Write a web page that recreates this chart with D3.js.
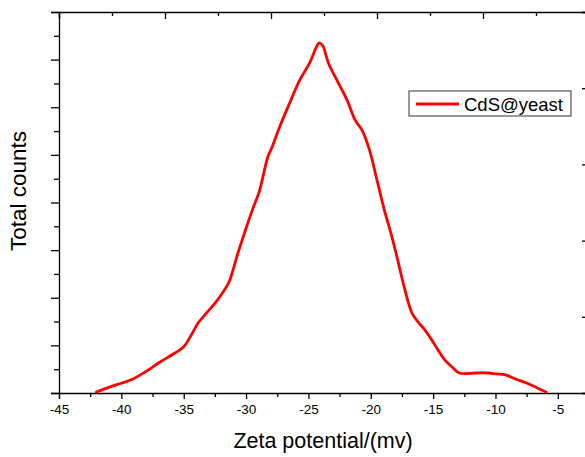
<!DOCTYPE html>
<html lang="en">
<head>
<meta charset="UTF-8">
<title>Zeta potential</title>
<style>
    body { margin: 0; background: #fff; }
    svg { display: block; font-family: "Liberation Sans", Arial, sans-serif; }
</style>
</head>
<body>
<script src="https://cdn.jsdelivr.net/npm/d3@7/dist/d3.min.js"></script>
<script>
    // zeta potential distribution
    const zeta = [-42.0, -40.9, -39.95, -39.1, -38.1, -36.9, -35.7, -35.0, -34.3, -33.85, -33.3, -32.3,
        -31.4, -31.05, -30.65, -30.1, -29.5, -28.95, -28.25, -27.9, -27.3, -26.5, -25.7, -24.9, -24.4,
        -24.15, -23.85, -23.4, -22.6, -21.9, -21.25, -20.7, -20.1, -19.5, -18.85, -18.45, -17.9, -17.4,
        -16.7, -16.2, -15.65, -15.1, -14.6, -14.05, -13.5, -12.9, -11.6, -10.6, -9.9, -9.2, -8.35,
        -7.5, -6.6, -5.95]
    const counts = [0.02, 0.13, 0.21, 0.29, 0.44, 0.65, 0.84, 0.97, 1.26, 1.47, 1.64, 1.95,
        2.31, 2.58, 2.94, 3.38, 3.84, 4.22, 4.96, 5.17, 5.59, 6.09, 6.57, 6.93, 7.24,
        7.35, 7.29, 6.93, 6.51, 6.15, 5.73, 5.52, 5.1, 4.47, 3.78, 3.42, 2.86, 2.31,
        1.68, 1.49, 1.32, 1.11, 0.9, 0.69, 0.55, 0.42, 0.42, 0.42, 0.4, 0.38, 0.29,
        0.21, 0.1, 0.02]
    const xTicks = [-45, -40, -35, -30, -25, -20, -15, -10, -5]
    const seriesName = 'CdS@yeast'

    const width = 585
    const height = 457
    const margin = { left: 59, top: 12, right: -4, bottom: 64 }
    const x0 = margin.left, x1 = width - margin.right
    const y0 = margin.top, y1 = height - margin.bottom

    const svg = d3.select('body').append('svg')
        .attr('width', width)
        .attr('height', height)

    const x = d3.scaleLinear().domain([-45, -2.5]).range([x0, x1])
    const y = d3.scaleLinear().domain([0, 8]).range([y1, y0])
    // top / right frame axes carry only ticks
    const xTop = d3.scaleLinear().domain([0, 5]).range([x0, x1])
    const yRight = d3.scaleLinear().domain([0, 5]).range([y1, y0])

    const half = n => d3.range(0, n + 0.01, 0.5).filter(v => v % 1 !== 0)

    function axis(g, maj, min) {
        g.call(maj)
        g.call(min)
        g.selectAll('.domain').attr('stroke', '#000').attr('stroke-width', 1.3)
        g.selectAll('.tick line').attr('stroke', '#000').attr('stroke-width', 1.3)
    }

    // bottom
    const gb = svg.append('g').attr('transform', `translate(0,${y1})`)
    axis(gb,
        d3.axisBottom(x).tickValues(xTicks).tickSize(6).tickPadding(5).tickFormat(d => String(d)),
        g => g.append('g').call(d3.axisBottom(x).tickValues(xTicks.map(d => d + 2.5)).tickSize(4).tickFormat(''))
            .call(s => s.select('.domain').remove()))
    gb.selectAll('text').attr('font-size', 13.5).attr('fill', '#000')
        .attr('font-family', '"Liberation Sans", Arial, sans-serif')

    // left
    const gl = svg.append('g').attr('transform', `translate(${x0},0)`)
    axis(gl,
        d3.axisLeft(y).ticks(8).tickSize(8).tickFormat(''),
        g => g.append('g').call(d3.axisLeft(y).tickValues(half(8)).tickSize(5).tickFormat(''))
            .call(s => s.select('.domain').remove()))

    // top
    const gt = svg.append('g').attr('transform', `translate(0,${y0})`)
    axis(gt,
        d3.axisBottom(xTop).ticks(5).tickSize(7).tickFormat(''),
        g => g.append('g').call(d3.axisBottom(xTop).tickValues(half(5)).tickSize(4).tickFormat(''))
            .call(s => s.select('.domain').remove()))

    // right
    const gr = svg.append('g').attr('transform', `translate(${x1},0)`)
    axis(gr,
        d3.axisLeft(yRight).ticks(5).tickSize(7).tickFormat(''),
        g => g.append('g').call(d3.axisLeft(yRight).tickValues(half(5)).tickSize(4).tickFormat(''))
            .call(s => s.select('.domain').remove()))

    // curve
    const data = zeta.map((d, i) => ({ x: d, y: counts[i] }))
    svg.append('path')
        .datum(data)
        .attr('fill', 'none')
        .attr('stroke', '#ff0000')
        .attr('stroke-width', 2.8)
        .attr('stroke-linejoin', 'round')
        .attr('stroke-linecap', 'round')
        .attr('d', d3.line().x(d => x(d.x)).y(d => y(d.y)).curve(d3.curveCatmullRom.alpha(0.5)))

    // titles
    svg.append('text')
        .attr('x', 323)
        .attr('y', 448)
        .attr('text-anchor', 'middle')
        .attr('font-size', 21.5)
        .text('Zeta potential/(mv)')

    svg.append('text')
        .attr('transform', 'translate(26,191) rotate(-90)')
        .attr('text-anchor', 'middle')
        .attr('font-size', 22.5)
        .text('Total counts')

    // legend
    const lg = svg.append('g').attr('transform', 'translate(409,91)')
    lg.append('rect')
        .attr('width', 162).attr('height', 25)
        .attr('fill', '#fff').attr('stroke', '#333').attr('stroke-width', 1)
    lg.append('line')
        .attr('x1', 7).attr('x2', 50).attr('y1', 13).attr('y2', 13)
        .attr('stroke', '#ff0000').attr('stroke-width', 2.8)
    lg.append('text')
        .attr('x', 55).attr('y', 19.5)
        .attr('font-size', 18.5)
        .text(seriesName)
</script>
</body>
</html>
